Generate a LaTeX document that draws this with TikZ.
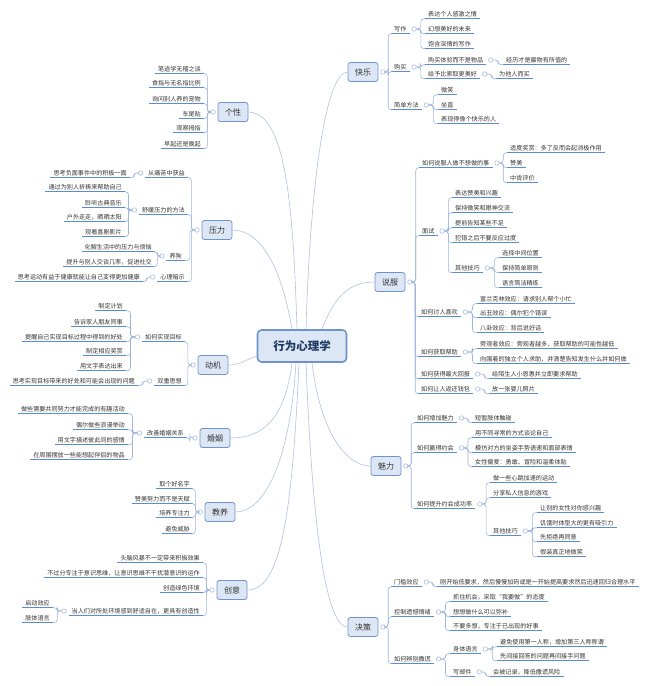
\documentclass[tikz,border=0pt]{standalone}
\usepackage{fontspec}
\setmainfont{Noto Sans CJK SC}
\usetikzlibrary{calc}
\definecolor{ul}{HTML}{5B8BD0}
\definecolor{brc}{HTML}{9DB5DD}
\definecolor{cu}{HTML}{AFC3E2}
\definecolor{bf}{HTML}{DCE6F4}
\definecolor{bd}{HTML}{6F94CC}
\definecolor{tx}{HTML}{333333}
\definecolor{dk}{HTML}{1F3A63}
\newcommand\fs{\fontsize{6.1pt}{7pt}\selectfont}
\newcommand\lfr[4]{\node[lfR] (#1) at (#2,#3) {#4};\draw[uline] (#1.south west)--(#1.south east);}
\newcommand\lfl[4]{\node[lfL] (#1) at (#2,#3) {#4};\draw[uline] (#1.south west)--(#1.south east);}
\newcommand\mbx[4]{\node[mbox] (#1) at (#2,#3) {#4};}
\newcommand\dtr[1]{\node[dot] (#1c) at ([xshift=4.5pt]#1.east) {};}
\newcommand\dtl[1]{\node[dot] (#1c) at ([xshift=-4.5pt]#1.west) {};}
\newcommand\lkr[2]{\draw[brk] let \p1=(#1c.east), \p2=(#2.south west), \p3=($(\p1)!0.5!(\p2)$) in (\p1) -- (\x3,\y1) -- (\x3,\y2) -- (\p2);}
\newcommand\lkl[2]{\draw[brk] let \p1=(#1c.west), \p2=(#2.south east), \p3=($(\p1)!0.5!(\p2)$) in (\p1) -- (\x3,\y1) -- (\x3,\y2) -- (\p2);}
\begin{document}
\begin{tikzpicture}[x=1pt,y=-1pt,
  leaf/.style={font=\fs, text=tx, inner xsep=3pt, inner ysep=1.5pt, text height=5pt, text depth=1pt},
  lfR/.style={leaf, anchor=west, xshift=-3pt},
  lfL/.style={leaf, anchor=east, xshift=3pt},
  uline/.style={draw=ul, line width=1.1pt},
  brk/.style={draw=brc, line width=0.6pt, rounded corners=3pt},
  dot/.style={circle, draw=brc, fill=white, line width=0.5pt, minimum size=4.5pt, inner sep=0pt},
  mbox/.style={draw=bd, fill=bf, rounded corners=2.5pt, line width=0.8pt, minimum width=30pt, minimum height=19pt, inner sep=1pt, font=\fontsize{8}{9}\selectfont, text=tx},
  cbox/.style={draw=bd, fill=bf, rounded corners=4pt, line width=1.6pt, minimum width=89pt, minimum height=32pt, font=\fontsize{11.5}{13}\selectfont\bfseries, text=dk},
  curve/.style={draw=cu, line width=0.6pt}]
\useasboundingbox (0,0) rectangle (650,686);
\fill[white] (0,0) rectangle (650,686);
% centre
\node[cbox] (ctr) at (302,346) {行为心理学};
% ---------- right side ----------
\mbx{kl}{363}{72}{快乐}
\lfr{k1}{394}{29}{写作}
\lfr{k11}{428}{14}{表达个人感激之情}
\lfr{k12}{428}{29}{幻想美好的未来}
\lfr{k13}{428}{44}{饱含深情的写作}
\lfr{k2}{394}{67}{购买}
\lfr{k21}{428}{60}{购买体验而不是物品}
\lfr{k211}{506}{60}{经历才是最物有所值的}
\lfr{k22}{428}{74}{给予比索取更美好}
\lfr{k221}{499}{74}{为他人而买}
\lfr{k3}{394}{105}{简单方法}
\lfr{k31}{441}{90}{微笑}
\lfr{k32}{441}{105}{坐直}
\lfr{k33}{441}{119}{表现得像个快乐的人}
\dtr{kl}\dtr{k1}\dtr{k2}\dtr{k21}\dtr{k22}\dtr{k3}
\lkr{kl}{k1}\lkr{kl}{k2}\lkr{kl}{k3}
\lkr{k1}{k11}\lkr{k1}{k12}\lkr{k1}{k13}
\lkr{k2}{k21}\lkr{k2}{k22}\lkr{k21}{k211}\lkr{k22}{k221}
\lkr{k3}{k31}\lkr{k3}{k32}\lkr{k3}{k33}
%
\mbx{sf}{390}{282}{说服}
\lfr{s1}{422}{163}{如何说服人做不想做的事}
\lfr{s11}{510}{148}{适度奖赏：多了反而会起消极作用}
\lfr{s12}{510}{163}{赞美}
\lfr{s13}{510}{178}{中肯评价}
\lfr{s2}{422}{231}{面试}
\lfr{s21}{455}{193}{表达赞美和兴趣}
\lfr{s22}{455}{208}{保持微笑和眼神交流}
\lfr{s23}{455}{223}{提前告知某些不足}
\lfr{s24}{455}{238}{犯错之后不要反应过度}
\lfr{s25}{455}{268}{其他技巧}
\lfr{s251}{502}{253}{选择中间位置}
\lfr{s252}{502}{268}{保持简单原则}
\lfr{s253}{502}{283}{语言简洁精练}
\lfr{s3}{421}{312}{如何讨人喜欢}
\lfr{s31}{480}{299}{富兰克林效应：请求别人帮个小忙}
\lfr{s32}{480}{313}{出丑效应：偶尔犯个错误}
\lfr{s33}{480}{328}{八卦效应：背后说好话}
\lfr{s4}{421}{352}{如何获取帮助}
\lfr{s41}{480}{344}{旁观者效应：旁观者越多，获取帮助的可能性越低}
\lfr{s42}{480}{359}{向围着的独立个人求助，并清楚告知发生什么并如何做}
\lfr{s5}{421}{374}{如何获得最大回报}
\lfr{s51}{492}{374}{给陌生人小恩惠并立即要求帮助}
\lfr{s6}{421}{389}{如何让人返还钱包}
\lfr{s61}{492}{389}{放一张婴儿照片}
\dtr{sf}\dtr{s1}\dtr{s2}\dtr{s25}\dtr{s3}\dtr{s4}\dtr{s5}\dtr{s6}
\lkr{sf}{s1}\lkr{sf}{s2}\lkr{sf}{s3}\lkr{sf}{s4}\lkr{sf}{s5}\lkr{sf}{s6}
\lkr{s1}{s11}\lkr{s1}{s12}\lkr{s1}{s13}
\lkr{s2}{s21}\lkr{s2}{s22}\lkr{s2}{s23}\lkr{s2}{s24}\lkr{s2}{s25}
\lkr{s25}{s251}\lkr{s25}{s252}\lkr{s25}{s253}
\lkr{s3}{s31}\lkr{s3}{s32}\lkr{s3}{s33}
\lkr{s4}{s41}\lkr{s4}{s42}\lkr{s5}{s51}\lkr{s6}{s61}
%
\mbx{ml}{386}{466}{魅力}
\lfr{m1}{417}{418}{如何增加魅力}
\lfr{m11}{475}{418}{短暂肢体触碰}
\lfr{m2}{417}{448}{如何赢得约会}
\lfr{m21}{475}{433}{用不同寻常的方式谈论自己}
\lfr{m22}{475}{448}{模仿对方的坐姿手势语速和面部表情}
\lfr{m23}{475}{462}{女性偏爱：勇敢、冒险和温柔体贴}
\lfr{m3}{417}{504}{如何提升约会成功率}
\lfr{m31}{493}{478}{做一些心跳加速的运动}
\lfr{m32}{493}{493}{分享私人信息的游戏}
\lfr{m33}{493}{531}{其他技巧}
\lfr{m331}{540}{508}{让别的女性对你感兴趣}
\lfr{m332}{540}{523}{饥饿时体型大的更有吸引力}
\lfr{m333}{540}{537}{先拒绝再同意}
\lfr{m334}{540}{552}{假装真正地微笑}
\dtr{ml}\dtr{m1}\dtr{m2}\dtr{m3}\dtr{m33}
\lkr{ml}{m1}\lkr{ml}{m2}\lkr{ml}{m3}
\lkr{m1}{m11}\lkr{m2}{m21}\lkr{m2}{m22}\lkr{m2}{m23}
\lkr{m3}{m31}\lkr{m3}{m32}\lkr{m3}{m33}
\lkr{m33}{m331}\lkr{m33}{m332}\lkr{m33}{m333}\lkr{m33}{m334}
%
\mbx{jc}{363}{627}{决策}
\lfr{j1}{394}{582}{门槛效应}
\lfr{j11}{440}{582}{刚开始低要求，然后慢慢加码或是一开始提高要求然后迅速回归合理水平}
\lfr{j2}{394}{612}{控制遗憾情绪}
\lfr{j21}{453}{597}{抓住机会，采取“我要做”的态度}
\lfr{j22}{453}{612}{想想做什么可以弥补}
\lfr{j23}{453}{626}{不要多想，专注于已出现的好事}
\lfr{j3}{394}{659}{如何辨别撒谎}
\lfr{j31}{453}{649}{身体语言}
\lfr{j311}{500}{642}{避免使用第一人称，增加第三人称称谓}
\lfr{j312}{500}{656}{先间接回答的问题再间接手问题}
\lfr{j32}{453}{672}{写邮件}
\lfr{j321}{493}{672}{会被记录，降低撒谎风险}
\dtr{jc}\dtr{j1}\dtr{j2}\dtr{j3}\dtr{j31}\dtr{j32}
\lkr{jc}{j1}\lkr{jc}{j2}\lkr{jc}{j3}
\lkr{j1}{j11}\lkr{j2}{j21}\lkr{j2}{j22}\lkr{j2}{j23}
\lkr{j3}{j31}\lkr{j3}{j32}\lkr{j31}{j311}\lkr{j31}{j312}\lkr{j32}{j321}
% ---------- left side ----------
\mbx{gx}{233}{112}{个性}
\lfl{g1}{201}{69}{笔迹学无稽之谈}
\lfl{g2}{201}{83}{食指与无名指比例}
\lfl{g3}{201}{99}{询问别人养的宠物}
\lfl{g4}{201}{114}{车尾贴}
\lfl{g5}{201}{128}{观察拇指}
\lfl{g6}{201}{144}{早起还是晚起}
\dtl{gx}
\lkl{gx}{g1}\lkl{gx}{g2}\lkl{gx}{g3}\lkl{gx}{g4}\lkl{gx}{g5}\lkl{gx}{g6}
%
\mbx{yl}{217}{230}{压力}
\lfl{y1}{185}{173}{从痛苦中获益}
\lfl{y11}{127}{173}{思考负面事件中的积极一面}
\lfl{y2}{185}{210}{舒缓压力的方法}
\lfl{y21}{122}{187}{通过为别人祈祷来帮助自己}
\lfl{y22}{122}{203}{聆听古典音乐}
\lfl{y23}{122}{217}{户外走走，晒晒太阳}
\lfl{y24}{122}{232}{观看喜剧影片}
\lfl{y3}{182}{256}{养狗}
\lfl{y31}{152}{247}{化解生活中的压力与烦恼}
\lfl{y32}{152}{262}{提升与别人交谈几率，促进社交}
\lfl{y4}{185}{277}{心理暗示}
\lfl{y41}{140}{277}{思考运动有益于健康就能让自己变得更加健康}
\dtl{yl}\dtl{y1}\dtl{y2}\dtl{y3}\dtl{y4}
\lkl{yl}{y1}\lkl{yl}{y2}\lkl{yl}{y3}\lkl{yl}{y4}
\lkl{y1}{y11}\lkl{y2}{y21}\lkl{y2}{y22}\lkl{y2}{y23}\lkl{y2}{y24}
\lkl{y3}{y31}\lkl{y3}{y32}\lkl{y4}{y41}
%
\mbx{dj}{213}{365}{动机}
\lfl{d1}{182}{337}{如何实现目标}
\lfl{d11}{123}{306}{制定计划}
\lfl{d12}{123}{322}{告诉家人朋友同事}
\lfl{d13}{123}{337}{提醒自己实现目标过程中得到的好处}
\lfl{d14}{123}{351}{制定相应奖赏}
\lfl{d15}{123}{366}{用文字表达出来}
\lfl{d2}{182}{381}{双重思想}
\lfl{d21}{135}{381}{思考实现目标带来的好处和可能会出现的问题}
\dtl{dj}\dtl{d1}\dtl{d2}
\lkl{dj}{d1}\lkl{dj}{d2}
\lkl{d1}{d11}\lkl{d1}{d12}\lkl{d1}{d13}\lkl{d1}{d14}\lkl{d1}{d15}\lkl{d2}{d21}
%
\mbx{hy}{215}{438}{婚姻}
\lfl{h1}{184}{433}{改善婚姻关系}
\lfl{h11}{125}{409}{做些需要共同努力才能完成的有趣活动}
\lfl{h12}{125}{425}{偶尔做些浪漫举动}
\lfl{h13}{125}{440}{用文字描述彼此间的感情}
\lfl{h14}{125}{455}{在周围摆放一些能想起伴侣的物品}
\dtl{hy}\dtl{h1}
\lkl{hy}{h1}\lkl{h1}{h11}\lkl{h1}{h12}\lkl{h1}{h13}\lkl{h1}{h14}
%
\mbx{jy}{220}{512}{教养}
\lfl{e1}{190}{484}{取个好名字}
\lfl{e2}{190}{499}{赞美努力而不是天赋}
\lfl{e3}{190}{513}{培养专注力}
\lfl{e4}{190}{529}{避免威胁}
\dtl{jy}
\lkl{jy}{e1}\lkl{jy}{e2}\lkl{jy}{e3}\lkl{jy}{e4}
%
\mbx{cy}{232}{590}{创意}
\lfl{c1}{200}{558}{头脑风暴不一定带来积极效果}
\lfl{c2}{200}{573}{不过分专注于意识思维，让意识思维不干扰潜意识的运作}
\lfl{c3}{200}{588}{创造绿色环境}
\lfl{c4}{200}{611}{当人们对所处环境感到舒适自在，更具有创造性}
\lfl{c41}{50}{603}{启动效应}
\lfl{c42}{50}{618}{肢体语言}
\dtl{cy}\dtl{c4}
\lkl{cy}{c1}\lkl{cy}{c2}\lkl{cy}{c3}\lkl{cy}{c4}
\lkl{c4}{c41}\lkl{c4}{c42}
% ---------- centre curves ----------
\draw[curve] ([xshift=-5pt]ctr.north) .. controls (293,200) and (285,113) .. (gx.east);
\draw[curve] ([xshift=4pt]ctr.north) .. controls (310,190) and (325,72) .. (kl.west);
\draw[curve] ([xshift=-10pt]ctr.north) .. controls (282,270) and (262,230) .. (yl.east);
\draw[curve] ([xshift=20pt]ctr.north) .. controls (335,295) and (350,282) .. (sf.west);
\draw[curve] ([yshift=-10pt]ctr.west) .. controls (245,360) and (240,365) .. (dj.east);
\draw[curve] ([xshift=-10pt]ctr.south) .. controls (285,420) and (262,438) .. (hy.east);
\draw[curve] ([xshift=-6pt]ctr.south) .. controls (290,460) and (265,512) .. (jy.east);
\draw[curve] ([xshift=-3pt]ctr.south) .. controls (292,520) and (280,590) .. (cy.east);
\draw[curve] ([xshift=10pt]ctr.south) .. controls (320,430) and (345,466) .. (ml.west);
\draw[curve] ([xshift=4pt]ctr.south) .. controls (312,520) and (325,627) .. (jc.west);
\end{tikzpicture}
\end{document}
